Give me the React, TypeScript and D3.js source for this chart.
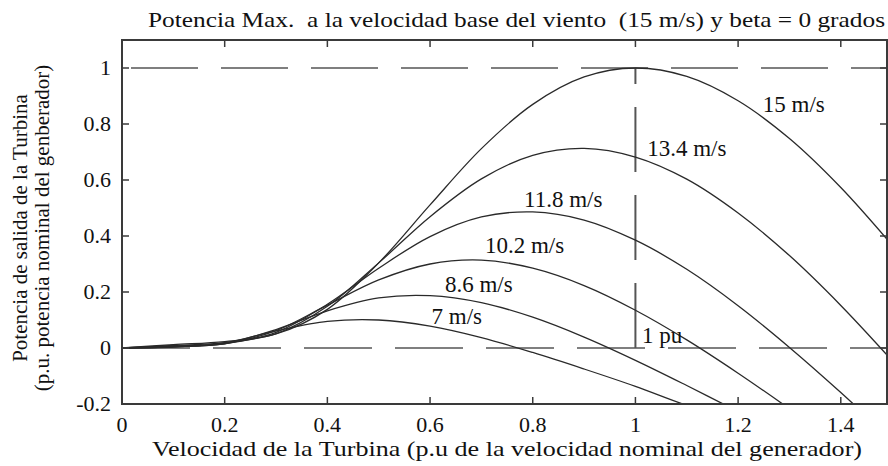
import React, { useRef, useEffect } from 'react';
import * as d3 from 'd3';

const W = 888;
const H = 466;
const LEFT = 122;
const RIGHT = 887;
const TOP = 40;
const BOTTOM = 404;
const FONT = '"Liberation Serif", "Times New Roman", serif';

// turbine speed (pu) and output power (pu) per wind speed
const turbineSpeed = [0, 0.1, 0.2, 0.3, 0.4, 0.5, 0.6, 0.7, 0.8, 0.9, 1.0, 1.1, 1.2, 1.3, 1.4, 1.5];
const p15 = [0, 0.012, 0.023, 0.05, 0.138, 0.304, 0.511, 0.712, 0.87, 0.968, 1.0, 0.97, 0.883, 0.748, 0.573, 0.367];
const p134 = [0, 0.009, 0.019, 0.051, 0.149, 0.304, 0.469, 0.604, 0.688, 0.713, 0.682, 0.603, 0.482, 0.33, 0.152, -0.045];
const p118 = [0, 0.007, 0.016, 0.056, 0.156, 0.285, 0.398, 0.468, 0.486, 0.457, 0.385, 0.281, 0.151, 0.002, -0.159, -0.329];
const p102 = [0, 0.005, 0.015, 0.062, 0.153, 0.243, 0.3, 0.314, 0.285, 0.223, 0.135, 0.029, -0.09, -0.217, -0.348, null];
const p86 = [0, 0.004, 0.016, 0.066, 0.133, 0.179, 0.187, 0.162, 0.11, 0.039, -0.044, -0.134, -0.227, null, null, null];
const p7 = [0, 0.003, 0.018, 0.061, 0.095, 0.1, 0.078, 0.037, -0.016, -0.075, -0.137, -0.205, -0.261, null, null, null];

const series = [p15, p134, p118, p102, p86, p7];

// curve labels: text, anchor point in data units (left, baseline)
const curveLabels = ['15 m/s', '13.4 m/s', '11.8 m/s', '10.2 m/s', '8.6 m/s', '7 m/s', '1 pu'];
const labelX = [1.248, 1.023, 0.783, 0.707, 0.629, 0.603, 1.013];
const labelY = [0.843, 0.686, 0.504, 0.34, 0.2, 0.086, 0.018];

const xTicks = [0, 0.2, 0.4, 0.6, 0.8, 1, 1.2, 1.4];
const yTicks = [-0.2, 0, 0.2, 0.4, 0.6, 0.8, 1];

const TITLE = 'Potencia Max.  a la velocidad base del viento  (15 m/s) y beta = 0 grados';
const XLABEL = 'Velocidad de la Turbina (p.u de la velocidad nominal del generador)';
const YLABEL1 = 'Potencia de salida de la Turbina';
const YLABEL2 = '(p.u. potencia nominal del genberador)';

export default function App() {
  const svgRef = useRef<SVGSVGElement>(null);

  useEffect(() => {
    if (!svgRef.current) return;
    const svg = d3.select(svgRef.current);
    svg.selectAll('*').remove();

    const x = d3.scaleLinear().domain([0, 1.49]).range([LEFT, RIGHT]);
    const y = d3.scaleLinear().domain([-0.2, 1.1]).range([BOTTOM, TOP]);

    svg.append('rect').attr('width', W).attr('height', H).attr('fill', '#fff');

    svg
      .append('clipPath')
      .attr('id', 'plot-clip')
      .append('rect')
      .attr('x', LEFT)
      .attr('y', TOP)
      .attr('width', RIGHT - LEFT)
      .attr('height', BOTTOM - TOP);

    // dashed reference lines
    const dashColor = '#555';
    svg
      .append('line')
      .attr('x1', x(0))
      .attr('x2', RIGHT)
      .attr('y1', y(1))
      .attr('y2', y(1))
      .attr('stroke', dashColor)
      .attr('stroke-width', 1.5)
      .attr('stroke-dasharray', '67,23')
      .attr('stroke-dashoffset', 81);
    svg
      .append('line')
      .attr('x1', x(0))
      .attr('x2', RIGHT)
      .attr('y1', y(0))
      .attr('y2', y(0))
      .attr('stroke', dashColor)
      .attr('stroke-width', 1.5)
      .attr('stroke-dasharray', '68,23');
    svg
      .append('line')
      .attr('x1', x(1))
      .attr('x2', x(1))
      .attr('y1', y(0))
      .attr('y2', y(1))
      .attr('stroke', dashColor)
      .attr('stroke-width', 2)
      .attr('stroke-dasharray', '65,23');

    // power curves
    const line = d3
      .line<number | null>()
      .defined((d) => d !== null)
      .x((_, i) => x(turbineSpeed[i]))
      .y((d) => y(d as number))
      .curve(d3.curveCatmullRom.alpha(0.5));

    const g = svg.append('g').attr('clip-path', 'url(#plot-clip)');
    series.forEach((s) => {
      g.append('path')
        .attr('d', line(s) ?? '')
        .attr('fill', 'none')
        .attr('stroke', '#2a2a2a')
        .attr('stroke-width', 1.3);
    });

    // frame + ticks
    const axisColor = '#3a3a3a';
    svg
      .append('rect')
      .attr('x', LEFT)
      .attr('y', TOP)
      .attr('width', RIGHT - LEFT)
      .attr('height', BOTTOM - TOP)
      .attr('fill', 'none')
      .attr('stroke', axisColor)
      .attr('stroke-width', 2);

    const tickLen = 7;
    xTicks.forEach((t) => {
      if (t > 0) {
        svg.append('line').attr('x1', x(t)).attr('x2', x(t)).attr('y1', BOTTOM).attr('y2', BOTTOM - tickLen)
          .attr('stroke', axisColor).attr('stroke-width', 1.5);
        svg.append('line').attr('x1', x(t)).attr('x2', x(t)).attr('y1', TOP).attr('y2', TOP + tickLen)
          .attr('stroke', axisColor).attr('stroke-width', 1.5);
      }
      svg
        .append('text')
        .attr('x', x(t))
        .attr('y', 432)
        .attr('text-anchor', 'middle')
        .attr('font-family', FONT)
        .attr('font-size', 22)
        .attr('fill', '#111')
        .text(String(t));
    });

    yTicks.forEach((t) => {
      if (t > -0.2) {
        svg.append('line').attr('x1', LEFT).attr('x2', LEFT + tickLen).attr('y1', y(t)).attr('y2', y(t))
          .attr('stroke', axisColor).attr('stroke-width', 1.5);
        svg.append('line').attr('x1', RIGHT).attr('x2', RIGHT - tickLen).attr('y1', y(t)).attr('y2', y(t))
          .attr('stroke', axisColor).attr('stroke-width', 1.5);
      }
      svg
        .append('text')
        .attr('x', 111)
        .attr('y', y(t) + 7)
        .attr('text-anchor', 'end')
        .attr('font-family', FONT)
        .attr('font-size', 22)
        .attr('fill', '#111')
        .text(String(t));
    });

    // curve labels
    curveLabels.forEach((lbl, i) => {
      svg
        .append('text')
        .attr('x', x(labelX[i]))
        .attr('y', y(labelY[i]))
        .attr('font-family', FONT)
        .attr('font-size', 23)
        .attr('fill', '#111')
        .text(lbl);
    });

    // title & axis labels
    svg
      .append('text')
      .attr('x', 148)
      .attr('y', 27)
      .attr('font-family', FONT)
      .attr('font-size', 22)
      .attr('fill', '#111')
      .attr('textLength', 737)
      .attr('lengthAdjust', 'spacingAndGlyphs')
      .style('white-space', 'pre')
      .text(TITLE);

    svg
      .append('text')
      .attr('x', 152)
      .attr('y', 456)
      .attr('font-family', FONT)
      .attr('font-size', 22)
      .attr('fill', '#111')
      .attr('textLength', 710)
      .attr('lengthAdjust', 'spacingAndGlyphs')
      .text(XLABEL);

    [YLABEL1, YLABEL2].forEach((lbl, i) => {
      svg
        .append('text')
        .attr('transform', `translate(${27 + i * 22}, 228) rotate(-90)`)
        .attr('text-anchor', 'middle')
        .attr('font-family', FONT)
        .attr('font-size', 21)
        .attr('fill', '#111')
        .text(lbl);
    });
  }, []);

  return (
    <svg
      ref={svgRef}
      width={W}
      height={H}
      style={{ position: 'absolute', left: 0, top: 0, display: 'block' }}
    />
  );
}
